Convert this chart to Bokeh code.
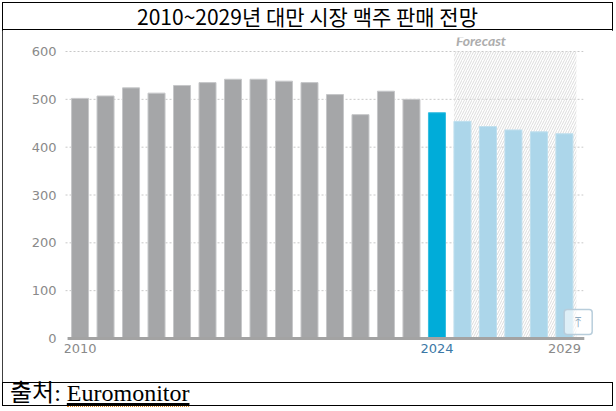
from bokeh.plotting import figure
from bokeh.models import Range1d, FixedTicker, BoxAnnotation, Label, Div
from bokeh.core.properties import value
from bokeh.layouts import column
from bokeh.embed import file_html
from bokeh.resources import INLINE

# chart data
title_text = "2010~2029년 대만 시장 맥주 판매 전망"
source_prefix = "출처:"
source_name = "Euromonitor"

years = [2010, 2011, 2012, 2013, 2014, 2015, 2016, 2017, 2018, 2019,
         2020, 2021, 2022, 2023, 2024, 2025, 2026, 2027, 2028, 2029]
sales = [502, 507, 524, 513, 529, 535, 542, 542, 538, 535,
         510, 468, 517, 500, 472, 454, 443, 436, 432, 428]
current_year = 2024
x_tick_years = [2010, 2029]
y_ticks = [0, 100, 200, 300, 400, 500, 600]
forecast_label = "Forecast"

BAR_W = 0.667
X_START, AXIS_START, AXIS_END, X_END = 2009.39, 2009.51, 2029.78, 2030.18
GRID_START, GRID_END = 2009.43, 2029.74
Y_START, Y_END = -50.2, 629.3
BTN_X, BTN_Y = AXIS_END - 0.24, 34.5
LABEL_FONT = "DejaVu Sans"

hist_x = [y for y in years if y < current_year]
hist_v = [v for y, v in zip(years, sales) if y < current_year]
cur_x = [y for y in years if y == current_year]
cur_v = [v for y, v in zip(years, sales) if y == current_year]
fc_x = [y for y in years if y > current_year]
fc_v = [v for y, v in zip(years, sales) if y > current_year]

p = figure(
    width=611, height=352,
    x_range=Range1d(X_START, X_END), y_range=Range1d(Y_START, Y_END),
    output_backend="svg", toolbar_location=None, tools="",
    min_border_left=62, min_border_right=19,
    min_border_top=7, min_border_bottom=20,
)
p.outline_line_color = None
p.background_fill_color = "white"
p.border_fill_color = "white"
p.xaxis.visible = False
p.grid.visible = False

# dotted value gridlines (stop short of the button area like the original)
grid_y = y_ticks[1:]
p.segment(x0=[GRID_START] * len(grid_y), y0=grid_y, x1=[GRID_END] * len(grid_y), y1=grid_y,
          line_color="#c8c8c8", line_dash="2 2", line_width=1, level="underlay")

# forecast band (hatched)
band = BoxAnnotation(
    left=fc_x[0] - BAR_W / 2, right=fc_x[-1] + 0.47, bottom=0, top=y_ticks[-1],
    fill_color=None, line_color=None, level="underlay",
    hatch_pattern="/", hatch_color="#dcdcdc", hatch_scale=5, hatch_weight=1,
)
p.add_layout(band)

p.vbar(x=hist_x, top=hist_v, width=BAR_W, fill_color="#a5a6a8", line_color="#c6c7c9")
p.vbar(x=cur_x, top=cur_v, width=BAR_W, fill_color="#00acd9", line_color="#33bde0")
p.vbar(x=fc_x, top=fc_v, width=BAR_W, fill_color="#acd6ea", line_color="#bfdfee")

# baseline
p.segment(x0=[AXIS_START], y0=[0], x1=[AXIS_END], y1=[0], line_color="#a3a3a3", line_width=3)

# x tick labels
p.text(x=x_tick_years, y=[0] * len(x_tick_years), text=[str(y) for y in x_tick_years],
       y_offset=6, text_align="center", text_baseline="top",
       text_font=value(LABEL_FONT), text_font_size="13px", text_color="#8a8a8a")
p.text(x=[current_year], y=[0], text=[str(current_year)],
       y_offset=6, text_align="center", text_baseline="top",
       text_font=value(LABEL_FONT), text_font_size="13px", text_color="#3b78a6")

# y axis
p.yaxis.ticker = FixedTicker(ticks=y_ticks)
p.yaxis.axis_line_color = None
p.yaxis.major_tick_line_color = None
p.yaxis.minor_tick_line_color = None
p.yaxis.major_label_standoff = 2
p.yaxis.major_label_text_font = LABEL_FONT
p.yaxis.major_label_text_font_size = "13px"
p.yaxis.major_label_text_color = "#8a8a8a"

p.add_layout(Label(
    x=fc_x[0] - BAR_W / 2, y=y_ticks[-1], x_offset=2, y_offset=3, text=forecast_label,
    text_baseline="bottom", text_font="Lato", text_font_style="bold italic",
    text_font_size="14px", text_color="#adadad",
))

# small scroll-to-top button from the source page
p.rect(x=[BTN_X], y=[BTN_Y], width=28, height=25, width_units="screen", height_units="screen",
       fill_color="white", fill_alpha=0.6, line_color="#b8cddb", line_width=1.5,
       border_radius=3)
p.text(x=[BTN_X], y=[BTN_Y], text=["⤒"], text_align="center", text_baseline="middle",
       text_font=value("DejaVu Sans"), text_font_size="14px", text_color="#8fabc0")

title = Div(
    text=f'<div style="width:611px;height:28px;line-height:28px;text-align:center;'
         f'font-family:\'Noto Sans CJK KR\';font-size:21px;color:#000;">{title_text}</div>',
    width=611, height=28, margin=0,
    styles={"outline": "1px solid #000", "outline-offset": "-1px", "background": "white"},
)
footer = Div(
    text=f'<div style="height:24px;line-height:23px;padding-left:8px;font-size:24px;'
         f'font-family:\'Liberation Serif\',\'Noto Sans CJK KR\';color:#000;white-space:nowrap;">'
         f'{source_prefix} <span style="text-decoration:underline;'
         f'border-bottom:1px dotted #e0831c;">{source_name}</span></div>',
    width=611, height=24, margin=0,
    styles={"outline": "1px solid #000", "outline-offset": "-1px", "background": "white"},
)

layout = column(title, p, footer, margin=(2, 0, 0, 2),
                styles={"outline": "1px solid #000", "outline-offset": "-1px"})

open("out.html", "w").write(file_html(layout, INLINE))
